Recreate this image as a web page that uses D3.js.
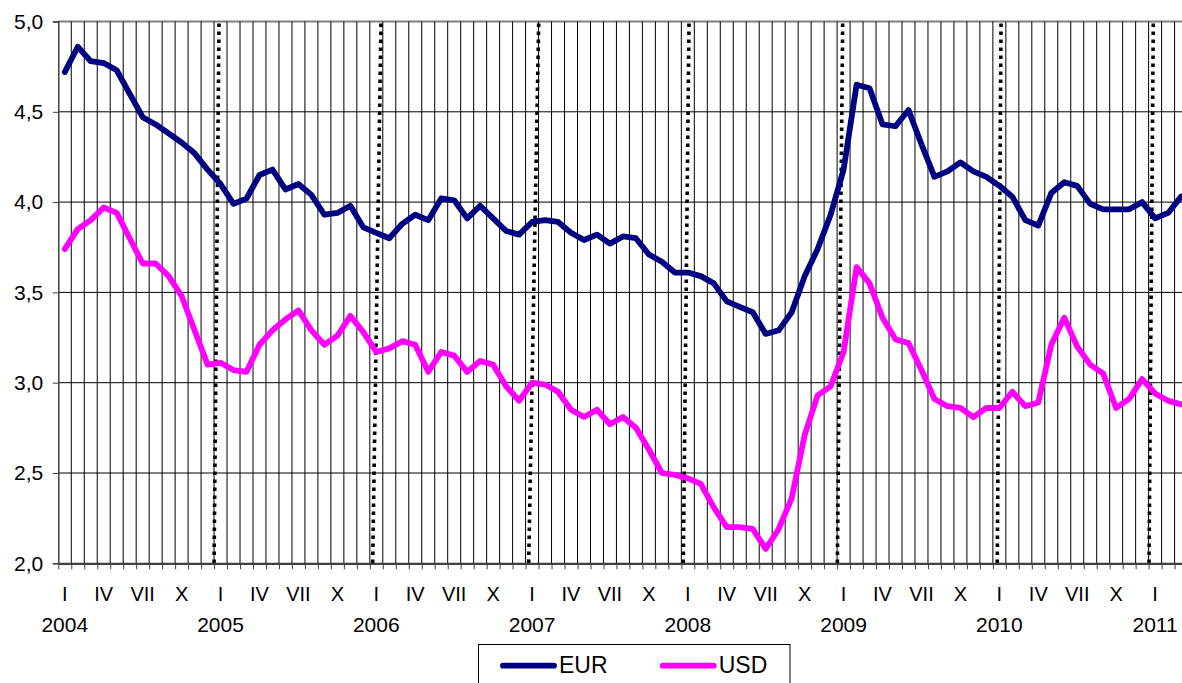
<!DOCTYPE html>
<html>
<head>
<meta charset="utf-8">
<script src="https://cdn.jsdelivr.net/npm/d3@7"></script>
<style>
  html, body { margin: 0; padding: 0; background: #fff; }
  svg { display: block; }
  text { font-family: "Liberation Sans", Arial, sans-serif; fill: #000; }
</style>
</head>
<body>
<svg id="chart" width="1182" height="683"></svg>
<script>
// ---------------- DATA ----------------
const years = [2004, 2005, 2006, 2007, 2008, 2009, 2010, 2011];
const monthRoman = ["I", "", "", "IV", "", "", "VII", "", "", "X", "", ""];
const monthCount = 87; // Jan 2004 .. Mar 2011

const eur = [
  4.72, 4.86, 4.78, 4.77, 4.73, 4.60, 4.47, 4.43, 4.38, 4.33, 4.27, 4.18,
  4.10, 3.99, 4.02, 4.15, 4.18, 4.07, 4.10, 4.04, 3.93, 3.94, 3.98, 3.86,
  3.83, 3.80, 3.88, 3.93, 3.90, 4.02, 4.01, 3.91, 3.98, 3.91, 3.84, 3.82,
  3.89, 3.90, 3.89, 3.83, 3.79, 3.82, 3.77, 3.81, 3.80, 3.71, 3.67, 3.61,
  3.61, 3.59, 3.55, 3.45, 3.42, 3.39, 3.27, 3.29, 3.39, 3.59, 3.74, 3.93,
  4.18, 4.65, 4.63, 4.43, 4.42, 4.51, 4.32, 4.14, 4.17, 4.22, 4.17, 4.14,
  4.09, 4.03, 3.90, 3.87, 4.05, 4.11, 4.09, 3.99, 3.96, 3.96, 3.96, 4.00,
  3.91, 3.94, 4.03
];
const usd = [
  3.74, 3.85, 3.90, 3.97, 3.94, 3.80, 3.66, 3.66, 3.59, 3.48, 3.29, 3.10,
  3.11, 3.07, 3.06, 3.21, 3.29, 3.35, 3.40, 3.29, 3.21, 3.26, 3.37, 3.28,
  3.17, 3.19, 3.23, 3.21, 3.06, 3.17, 3.15, 3.06, 3.12, 3.10, 2.98, 2.90,
  3.00, 2.99, 2.95, 2.85, 2.81, 2.85, 2.77, 2.81, 2.75, 2.63, 2.50, 2.49,
  2.47, 2.44, 2.31, 2.20, 2.20, 2.19, 2.08, 2.19, 2.36, 2.71, 2.93, 2.98,
  3.17, 3.64, 3.55, 3.36, 3.24, 3.22, 3.07, 2.91, 2.87, 2.86, 2.81, 2.86,
  2.86, 2.95, 2.87, 2.89, 3.21, 3.36, 3.20, 3.10, 3.05, 2.86, 2.91, 3.02,
  2.94, 2.90, 2.88
];
const yTicks = [2.0, 2.5, 3.0, 3.5, 4.0, 4.5, 5.0];
// hand-drawn dotted year separators (month units: top end, bottom end)
const dividerTop =    [12.38, 24.86, 37.01, 48.59, 60.43, 72.63, 84.36];
const dividerBottom = [12.00, 24.22, 36.24, 48.15, 60.02, 72.34, 84.03];
const seriesNames = ["EUR", "USD"];
const seriesColors = ["#000080", "#FF00FF"];

(function () {
// ---------------- LAYOUT ----------------
const svg = d3.select("#chart");
const plotLeft = 58.3, monthW = 12.98;
const plotTop = 21.5, plotBottom = 563.3;
const plotRight = plotLeft + monthCount * monthW;

const monthIdx = d3.range(monthCount);
const xBand = d3.scaleBand().domain(monthIdx).range([plotLeft, plotRight]).padding(0);
const xm = d3.scaleLinear().domain([0, monthCount]).range([plotLeft, plotRight]);
const y = d3.scaleLinear().domain([2, 5]).range([plotBottom, plotTop]);

// gridlines - horizontal
svg.append("g").selectAll("line").data(yTicks.slice(1, -1)).join("line")
  .attr("x1", plotLeft).attr("x2", plotRight)
  .attr("y1", d => y(d)).attr("y2", d => y(d))
  .attr("stroke", "#000").attr("stroke-width", 1);
// top border
svg.append("line").attr("x1", plotLeft).attr("x2", plotRight)
  .attr("y1", y(5)).attr("y2", y(5))
  .attr("stroke", "#808080").attr("stroke-width", 2);

// gridlines - vertical at month boundaries
svg.append("g").selectAll("line").data(d3.range(1, monthCount + 1)).join("line")
  .attr("x1", d => xm(d)).attr("x2", d => xm(d))
  .attr("y1", y(5)).attr("y2", y(2))
  .attr("stroke", "#000").attr("stroke-width", 1);

// dotted year separators
svg.append("g").selectAll("line").data(dividerTop).join("line")
  .attr("x1", d => xm(d)).attr("y1", y(5) + 2)
  .attr("x2", (d, i) => xm(dividerBottom[i])).attr("y2", y(2))
  .attr("stroke", "#000").attr("stroke-width", 3.6)
  .attr("stroke-dasharray", "3.6,4.4");

// y axis
const yAxis = d3.axisLeft(y).tickValues(yTicks)
  .tickFormat(d => d.toFixed(1).replace(".", ","))
  .tickSize(5.5).tickPadding(9.5);
const gy = svg.append("g").attr("transform", `translate(${plotLeft},0)`).call(yAxis);
gy.select(".domain").attr("stroke", "#404040").attr("stroke-width", 1.5);
gy.selectAll(".tick line").attr("stroke", "#404040");
gy.selectAll("text").style("font-size", "21px")
  .style("font-family", '"Liberation Sans", Arial, sans-serif').attr("fill", "#000");

// x axis tick marks at month boundaries
const xAxis = d3.axisBottom(xm).tickValues(d3.range(0, monthCount + 1))
  .tickFormat("").tickSize(6).tickSizeOuter(0);
const gx = svg.append("g").attr("transform", `translate(0,${plotBottom})`).call(xAxis);
gx.select(".domain").attr("stroke", "#404040").attr("stroke-width", 2.2);
gx.selectAll(".tick line").attr("stroke", "#404040");

// month labels
const monthLabels = monthIdx.filter(i => monthRoman[i % 12] !== "");
svg.append("g").selectAll("text").data(monthLabels).join("text")
  .attr("x", d => xBand(d) + xBand.bandwidth() / 2)
  .attr("y", 600.7)
  .attr("text-anchor", "middle")
  .style("font-size", "20px")
  .text(d => monthRoman[d % 12]);

// year labels
svg.append("g").selectAll("text").data(years).join("text")
  .attr("x", (d, i) => xBand(i * 12) + xBand.bandwidth() / 2)
  .attr("y", 631.7)
  .attr("text-anchor", "middle")
  .style("font-size", "21px")
  .text(d => d);

// series lines
const line = d3.line()
  .x((d, i) => xBand(i) + xBand.bandwidth() / 2)
  .y(d => y(d))
  .curve(d3.curveLinear);
[eur, usd].forEach((s, k) => {
  svg.append("path").datum(s)
    .attr("d", line)
    .attr("fill", "none")
    .attr("stroke", seriesColors[k])
    .attr("stroke-width", 5.8)
    .attr("stroke-linejoin", "round")
    .attr("stroke-linecap", "round");
});

// legend
const lg = svg.append("g");
lg.append("rect").attr("x", 478.5).attr("y", 644.5).attr("width", 311.5).attr("height", 60)
  .attr("fill", "#fff").attr("stroke", "#000").attr("stroke-width", 1);
const legendX = [503, 662.7];
seriesNames.forEach((n, k) => {
  lg.append("line").attr("x1", legendX[k]).attr("x2", legendX[k] + 51)
    .attr("y1", 665.7).attr("y2", 665.7)
    .attr("stroke", seriesColors[k]).attr("stroke-width", 5.8)
    .attr("stroke-linecap", "round");
  lg.append("text").attr("x", legendX[k] + 56).attr("y", 673.3)
    .style("font-size", "23px").text(n);
});
})();
</script>
</body>
</html>
